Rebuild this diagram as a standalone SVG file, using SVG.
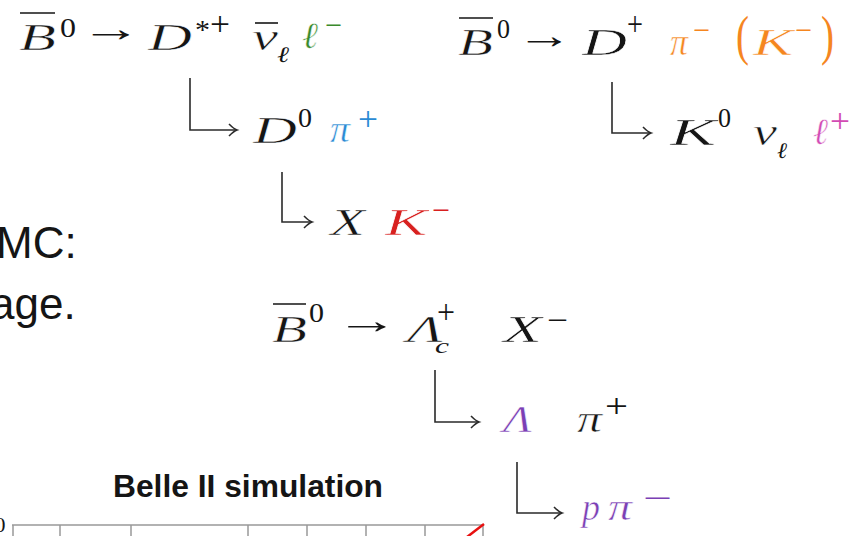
<svg xmlns="http://www.w3.org/2000/svg" width="858" height="536" viewBox="0 0 858 536">
<style>
text{fill:#151515}
.mi{font-family:"Liberation Serif","DejaVu Serif",serif;font-style:italic;font-size:37px;stroke:#fff;stroke-width:0.5px}
.up{font-family:"Liberation Serif","DejaVu Serif",serif;font-size:37px}
.sup{font-size:27px}
.mi.sub{font-size:22px;stroke:none}
.pl{font-size:34px}
.par{font-size:55px}
.bar{stroke:#151515;stroke-width:1.6}
.sans{font-family:"Liberation Sans",Arial,sans-serif;font-size:44px}
.title{font-family:"Liberation Sans",Arial,sans-serif;font-size:31px;font-weight:bold}
.axl{font-family:"Liberation Serif",serif;font-size:22px}
.conn path{fill:none;stroke:#2a2a2a;stroke-width:1.6}
.green{fill:#3a8a2c}.blue{fill:#2a8ad4}.orange{fill:#f5861f}.pink{fill:#d24bb4}.red{fill:#d8201f}.purple{fill:#7b3fb5}
.grid{stroke:#999;stroke-width:1.5}
</style>
<defs>
<marker id="hook" markerUnits="userSpaceOnUse" markerWidth="20" markerHeight="20" refX="10" refY="10" orient="auto" viewBox="0 0 20 20">
<path d="M2,4 Q7,9 10,10 Q7,11 2,16" fill="none" stroke="#2a2a2a" stroke-width="1.6"/>
</marker>
</defs>

<g id="sideText">
<text class="sans" x="-4" y="258">MC:</text>
<text class="sans" x="-10" y="319">age.</text>
</g>

<g id="decay1">
<text class="mi" x="19" y="50" textLength="37" lengthAdjust="spacingAndGlyphs">B</text>
<line class="bar" x1="20" y1="13" x2="55" y2="13"/>
<text class="up sup" x="60" y="37" textLength="16" lengthAdjust="spacingAndGlyphs">0</text>
<text class="up" x="80" y="40.5" textLength="61" lengthAdjust="spacingAndGlyphs">→</text>
<text class="mi" x="148" y="50" textLength="44" lengthAdjust="spacingAndGlyphs">D</text>
<text class="up sup" x="195" y="39" textLength="15" lengthAdjust="spacingAndGlyphs">*</text>
<text class="up pl" x="210" y="35" textLength="20" lengthAdjust="spacingAndGlyphs">+</text>
<text class="mi" x="252" y="50" textLength="26" lengthAdjust="spacingAndGlyphs">ν</text>
<line class="bar" x1="255" y1="23" x2="278" y2="23"/>
<text class="mi sub" x="277" y="62" textLength="12" lengthAdjust="spacingAndGlyphs">ℓ</text>
<text class="mi green" x="302" y="48" textLength="16" lengthAdjust="spacingAndGlyphs">ℓ</text>
<text class="up sup green" x="325" y="34" textLength="17" lengthAdjust="spacingAndGlyphs">−</text>
</g>

<g id="decay1b">
<text class="mi" x="253" y="143" textLength="44" lengthAdjust="spacingAndGlyphs">D</text>
<text class="up sup" x="298" y="127" textLength="14" lengthAdjust="spacingAndGlyphs">0</text>
<text class="mi blue" x="330" y="142" textLength="20" lengthAdjust="spacingAndGlyphs">π</text>
<text class="up pl blue" x="358" y="130" textLength="20" lengthAdjust="spacingAndGlyphs">+</text>
</g>

<g id="decay1c">
<text class="mi" x="330" y="235" textLength="35" lengthAdjust="spacingAndGlyphs">X</text>
<text class="mi red" x="385" y="235" textLength="42" lengthAdjust="spacingAndGlyphs">K</text>
<text class="up sup red" x="432" y="219" textLength="18" lengthAdjust="spacingAndGlyphs">−</text>
</g>

<g id="decay2">
<text class="mi" x="458" y="55" textLength="35" lengthAdjust="spacingAndGlyphs">B</text>
<line class="bar" x1="459" y1="18" x2="493" y2="18"/>
<text class="up sup" x="497" y="38" textLength="13" lengthAdjust="spacingAndGlyphs">0</text>
<text class="up" x="516" y="47.5" textLength="56" lengthAdjust="spacingAndGlyphs">→</text>
<text class="mi" x="582" y="55" textLength="45" lengthAdjust="spacingAndGlyphs">D</text>
<text class="up pl" x="627" y="35" textLength="16" lengthAdjust="spacingAndGlyphs">+</text>
<text class="mi orange" x="670" y="55" textLength="18" lengthAdjust="spacingAndGlyphs">π</text>
<text class="up sup orange" x="693" y="39" textLength="17" lengthAdjust="spacingAndGlyphs">−</text>
<text class="up par orange" x="736" y="54" textLength="13" lengthAdjust="spacingAndGlyphs">(</text>
<text class="mi orange" x="753" y="55" textLength="40" lengthAdjust="spacingAndGlyphs">K</text>
<text class="up sup orange" x="795" y="39" textLength="17" lengthAdjust="spacingAndGlyphs">−</text>
<text class="up par orange" x="821" y="54" textLength="13" lengthAdjust="spacingAndGlyphs">)</text>
</g>

<g id="decay2b">
<text class="mi" x="670" y="145" textLength="46" lengthAdjust="spacingAndGlyphs">K</text>
<text class="up sup" x="718" y="127" textLength="13" lengthAdjust="spacingAndGlyphs">0</text>
<text class="mi" x="753" y="145" textLength="24" lengthAdjust="spacingAndGlyphs">ν</text>
<text class="mi sub" x="777" y="158" textLength="10" lengthAdjust="spacingAndGlyphs">ℓ</text>
<text class="mi pink" x="813" y="144" textLength="15" lengthAdjust="spacingAndGlyphs">ℓ</text>
<text class="up pl pink" x="830" y="132" textLength="20" lengthAdjust="spacingAndGlyphs">+</text>
</g>

<g id="decay3">
<text class="mi" x="272" y="342" textLength="35" lengthAdjust="spacingAndGlyphs">B</text>
<line class="bar" x1="273" y1="304" x2="306" y2="304"/>
<text class="up sup" x="309" y="322" textLength="15" lengthAdjust="spacingAndGlyphs">0</text>
<text class="up" x="335" y="332.5" textLength="63" lengthAdjust="spacingAndGlyphs">→</text>
<text class="mi" x="407" y="342" textLength="36" lengthAdjust="spacingAndGlyphs">Λ</text>
<text class="up pl" x="437" y="323" textLength="18" lengthAdjust="spacingAndGlyphs">+</text>
<text class="mi sub" x="435" y="353" textLength="14" lengthAdjust="spacingAndGlyphs">c</text>
<text class="mi" x="503" y="342" textLength="39" lengthAdjust="spacingAndGlyphs">X</text>
<text class="up sup" x="547" y="329" textLength="21" lengthAdjust="spacingAndGlyphs">−</text>
</g>

<g id="decay3b">
<text class="mi purple" x="503" y="432" textLength="29" lengthAdjust="spacingAndGlyphs">Λ</text>
<text class="mi" x="577" y="432" textLength="25" lengthAdjust="spacingAndGlyphs">π</text>
<text class="up pl" x="605" y="417" textLength="23" lengthAdjust="spacingAndGlyphs">+</text>
</g>

<g id="decay3c">
<text class="mi purple" x="582" y="520" textLength="18" lengthAdjust="spacingAndGlyphs">p</text>
<text class="mi purple" x="608" y="520" textLength="24" lengthAdjust="spacingAndGlyphs">π</text>
<text class="up sup purple" x="643" y="507" textLength="29" lengthAdjust="spacingAndGlyphs">−</text>
</g>

<g id="connectors" class="conn">
<path d="M190,78 V130 H237" marker-end="url(#hook)"/>
<path d="M612,82 V133 H651" marker-end="url(#hook)"/>
<path d="M282,172 V222 H312" marker-end="url(#hook)"/>
<path d="M435,370 V422 H479" marker-end="url(#hook)"/>
<path d="M517,462 V513 H562" marker-end="url(#hook)"/>
</g>

<g id="plot">
<text class="title" x="113" y="497" textLength="270" lengthAdjust="spacingAndGlyphs">Belle II simulation</text>
<text class="axl" x="-5.5" y="532">0</text>
<line class="grid" x1="12" y1="525" x2="484" y2="525"/>
<g class="grid">
<line x1="13" y1="525" x2="13" y2="536"/>
<line x1="60" y1="525" x2="60" y2="536"/>
<line x1="131" y1="525" x2="131" y2="536"/>
<line x1="248" y1="525" x2="248" y2="536"/>
<line x1="307" y1="525" x2="307" y2="536"/>
<line x1="366" y1="525" x2="366" y2="536"/>
<line x1="425" y1="525" x2="425" y2="536"/>
<line x1="483" y1="525" x2="483" y2="536"/>
</g>
<line x1="467" y1="537" x2="484" y2="524" stroke="#e81010" stroke-width="2.5"/>
</g>
</svg>
